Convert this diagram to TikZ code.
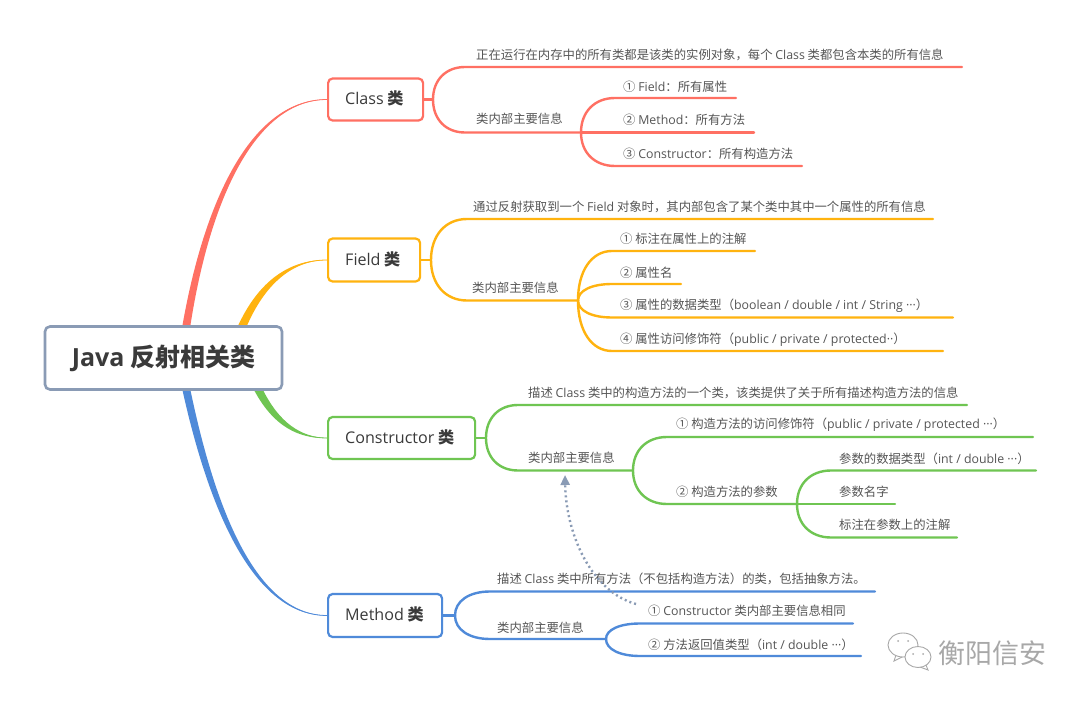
\documentclass[tikz,border=0pt]{standalone}
\usepackage{fontspec}
\usetikzlibrary{arrows.meta,calc,backgrounds}
\setmainfont{Noto Sans CJK SC}
\newfontfamily\latinf{Open Sans}
\newcommand\la[1]{{\latinf #1}}
\definecolor{cred}{HTML}{FF7063}
\definecolor{cyel}{HTML}{FFB30F}
\definecolor{cgrn}{HTML}{6FC552}
\definecolor{cblu}{HTML}{4F8AD9}
\definecolor{croot}{HTML}{8A9BB5}
\definecolor{ctxt}{HTML}{555555}
\definecolor{cdark}{HTML}{3A3A3A}
\definecolor{cwm}{HTML}{A8A8A8}
\tikzset{
  leaf/.style={anchor=west,inner sep=0pt,text=ctxt,font=\fontsize{12.35}{14}\selectfont},
  topic/.style={draw=#1,line width=2.2pt,rounded corners=4.5pt,fill=white,text=cdark,
     anchor=west,inner sep=0pt},
  topictext/.style={anchor=west,inner sep=0pt,text=cdark,font=\fontsize{16.1}{18}\selectfont},
  rootbox/.style={draw=croot,line width=2.6pt,rounded corners=5pt,fill=white,text=cdark,
     inner sep=0pt,font=\fontsize{25}{28}\selectfont\bfseries},
  twigline/.style={line width=2.4pt,line cap=round},
  relation/.style={draw=croot,line width=2.4pt,dash pattern=on 2pt off 3pt,-{Triangle[length=10pt,width=9pt]}},
}
\newcommand\twig[4]{% colour, junction, end, knee distance
  \draw[twigline,#1] let \p1=(#2),\p2=(#3) in (#2)
    .. controls (\x1,{\y1+0.6*(\y2-\y1)}) and ({\x1+0.4*#4pt},\y2) .. ({\x1+#4pt},\y2) -- (#3);}
\newcommand\taper[8]{% colour, start a, start b, c1a, c2a, c1b, c2b, end
  \fill[#1] (#2) .. controls #4 and #5 .. (#8) .. controls #7 and #6 .. (#3) -- cycle;
  \draw[#1,line width=0.8pt] ($(#2)!.5!(#3)$) .. controls ($#4!.5!#6$) and ($#5!.5!#7$) .. (#8);}
\begin{document}
\begin{tikzpicture}[x=1pt,y=-1pt]
\useasboundingbox (0,0) rectangle (1080,701);

% root and topics
\node[rootbox,minimum width=237pt,minimum height=63pt] (root) at (163.5,358) {\la{Java} 反射相关类};
\node[topic=cred,minimum width=95pt,minimum height=42pt] (class) at (327,99.5) {};
\node[topictext] (classT) at (345,98.8) {\la{Class} \textbf{类}};
\node[topic=cyel,minimum width=92pt,minimum height=43pt] (field) at (327,260) {};
\node[topictext] (fieldT) at (345,259.3) {\la{Field} \textbf{类}};
\node[topic=cgrn,minimum width=147pt,minimum height=42pt] (ctor) at (327,438) {};
\node[topictext] (ctorT) at (345,437.3) {\la{Constructor} \textbf{类}};
\node[topic=cblu,minimum width=114pt,minimum height=43pt] (meth) at (327,615.5) {};
\node[topictext] (methT) at (345,614.8) {\la{Method} \textbf{类}};

% main tapered branches
\begin{pgfonlayer}{background}
\fill[white] (0,0) rectangle (1080,701);
\coordinate (ra) at (182,328); \coordinate (rb) at (190,328);
\coordinate (ya) at (237,328); \coordinate (yb) at (246,328);
\coordinate (ga) at (253,388); \coordinate (gb) at (262,388);
\coordinate (ba) at (182,388); \coordinate (bb) at (190,388);
\taper{cred}{ra}{rb}{(205,195)}{(254,98.5)}{(210,197)}{(256,100.5)}{class.west}
\taper{cyel}{ya}{yb}{(259,279)}{(291,259.5)}{(265,283)}{(293,260.5)}{field.west}
\taper{cgrn}{ga}{gb}{(273,427)}{(299,438.7)}{(279,423)}{(301,437.3)}{ctor.west}
\taper{cblu}{ba}{bb}{(209,511)}{(254,616.5)}{(215,509)}{(256,614.5)}{meth.west}
\end{pgfonlayer}

% Class
\coordinate (cj) at (433,99.5); \coordinate (cTop) at (962,67); \coordinate (cIn) at (581,132.5);
\coordinate (cA) at (736,98); \coordinate (cB) at (754,132.5); \coordinate (cC) at (802,166);
\draw[twigline,cred] (class.east) -- (cj);
\twig{cred}{cj}{cTop}{32}
\twig{cred}{cj}{cIn}{32}
\twig{cred}{cIn}{cA}{34}
\twig{cred}{cIn}{cB}{34}
\twig{cred}{cIn}{cC}{34}
\node[leaf] (c0) at (476,54.7) {正在运行在内存中的所有类都是该类的实例对象，每个 \la{Class} 类都包含本类的所有信息};
\node[leaf] (c1) at (476,118.7) {类内部主要信息};
\node[leaf] (c2) at (623,86.7) {① \la{Field}：所有属性};
\node[leaf] (c3) at (623,119.7) {② \la{Method}：所有方法};
\node[leaf] (c4) at (623,153.7) {③ \la{Constructor}：所有构造方法};

% Field
\coordinate (fj) at (431,260); \coordinate (fTop) at (933,219); \coordinate (fIn) at (578,300.5);
\coordinate (fA) at (755,251); \coordinate (fB) at (681,284); \coordinate (fC) at (953,317.5); \coordinate (fD) at (943,351);
\draw[twigline,cyel] (field.east) -- (fj);
\twig{cyel}{fj}{fTop}{36}
\twig{cyel}{fj}{fIn}{36}
\twig{cyel}{fIn}{fA}{34}
\twig{cyel}{fIn}{fB}{34}
\twig{cyel}{fIn}{fC}{34}
\twig{cyel}{fIn}{fD}{34}
\node[leaf] (f0) at (473,206.7) {通过反射获取到一个 \la{Field} 对象时，其内部包含了某个类中其中一个属性的所有信息};
\node[leaf] (f1) at (472,287.7) {类内部主要信息};
\node[leaf] (f2) at (620,238.7) {① 标注在属性上的注解};
\node[leaf] (f3) at (620,272.7) {② 属性名};
\node[leaf] (f4) at (620,305.7) {③ 属性的数据类型（\la{boolean / double / int / String ···}）};
\node[leaf] (f5) at (620,339.7) {④ 属性访问修饰符（\la{public / private / protected··}）};

% Constructor
\coordinate (gj) at (486,438); \coordinate (gTop) at (967,405); \coordinate (gIn) at (633,470.5);
\coordinate (gA) at (1033,437); \coordinate (gB) at (797,504);
\coordinate (gC) at (1036,470.5); \coordinate (gD) at (895,504); \coordinate (gE) at (957,537.5);
\draw[twigline,cgrn] (ctor.east) -- (gj);
\twig{cgrn}{gj}{gTop}{32}
\twig{cgrn}{gj}{gIn}{32}
\twig{cgrn}{gIn}{gA}{34}
\twig{cgrn}{gIn}{gB}{34}
\twig{cgrn}{gB}{gC}{34}
\twig{cgrn}{gB}{gD}{34}
\twig{cgrn}{gB}{gE}{34}
\node[leaf] (g0) at (528,392.7) {描述 \la{Class} 类中的构造方法的一个类，该类提供了关于所有描述构造方法的信息};
\node[leaf] (g1) at (528,457.7) {类内部主要信息};
\node[leaf] (g2) at (676,424.7) {① 构造方法的访问修饰符（\la{public / private / protected ···}）};
\node[leaf] (g3) at (676,491.7) {② 构造方法的参数};
\node[leaf] (g4) at (839,458.7) {参数的数据类型（\la{int / double ···}）};
\node[leaf] (g5) at (839,491.7) {参数名字};
\node[leaf] (g6) at (839,524.7) {标注在参数上的注解};

% Method
\coordinate (mj) at (455,615.5); \coordinate (mTop) at (875,591.5); \coordinate (mIn) at (606,639);
\coordinate (mA) at (853,623.5); \coordinate (mB) at (861,656);
\draw[twigline,cblu] (meth.east) -- (mj);
\twig{cblu}{mj}{mTop}{35}
\twig{cblu}{mj}{mIn}{35}
\twig{cblu}{mIn}{mA}{34}
\twig{cblu}{mIn}{mB}{34}
\node[leaf] (m0) at (497,578.7) {描述 \la{Class} 类中所有方法（不包括构造方法）的类，包括抽象方法。};
\node[leaf] (m1) at (497,627.7) {类内部主要信息};
\node[leaf] (m2) at (648,610.7) {① \la{Constructor} 类内部主要信息相同};
\node[leaf] (m3) at (648,644.7) {② 方法返回值类型（\la{int / double ···}）};

% relation arrow
\coordinate (relS) at (636,604); \coordinate (relE) at (565,475);
\draw[relation] (relS) .. controls (592,592) and (566,535) .. (relE);

% watermark
\draw[cwm,line width=0.9pt,fill=white] (896,655) -- (894,661) -- (902,657) -- cycle;
\draw[cwm,line width=0.9pt,fill=white] (903,645) ellipse [x radius=15pt,y radius=12pt];
\draw[cwm,line width=0.9pt,fill=white] (926,665) -- (928,670) -- (920,667) -- cycle;
\draw[cwm,line width=0.9pt,fill=white] (918,657) ellipse [x radius=13pt,y radius=10.5pt];
\foreach \ex/\ey/\er in {898/641/1,908/641/1,913/654/1,923/654/1}{\fill[cwm] (\ex,\ey) circle (\er pt);}
\node[leaf,text=cwm,font=\fontsize{27}{30}\selectfont] (wm) at (938,653) {衡阳信安};
\end{tikzpicture}
\end{document}
